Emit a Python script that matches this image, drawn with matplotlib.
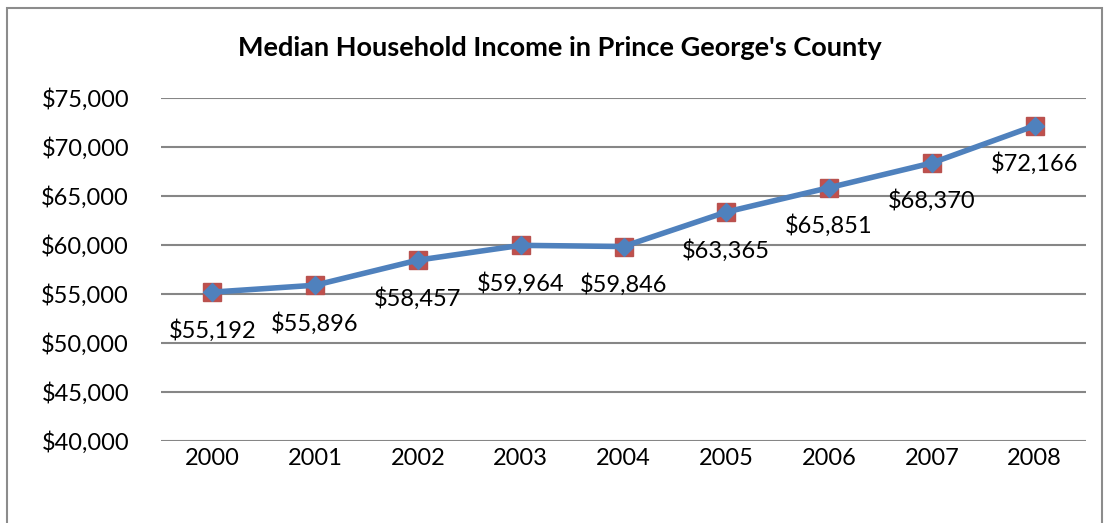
import matplotlib.pyplot as plt
from matplotlib.patches import Rectangle
from matplotlib.ticker import FuncFormatter

years = ["2000", "2001", "2002", "2003", "2004", "2005", "2006", "2007", "2008"]
income = [55192, 55896, 58457, 59964, 59846, 63365, 65851, 68370, 72166]
y_ticks = [40000, 45000, 50000, 55000, 60000, 65000, 70000, 75000]

W, H = 1104, 523
fig = plt.figure(figsize=(W / 100, H / 100), dpi=100)
plt.rcParams['font.family'] = ['Lato', 'DejaVu Sans']

ax = fig.add_axes([161 / W, 1 - 441 / H, (1086 - 161) / W, (441 - 98) / H])
x = list(range(len(years)))

# red square markers underneath, blue line with diamond markers on top
ax.plot(x, income, linestyle='none', marker='s', markersize=13.5,
        markerfacecolor='#C0504D', markeredgecolor='#B8524F', zorder=3)
ax.plot(x, income, color='#4F81BD', linewidth=4, marker='D', markersize=9.5,
        markerfacecolor='#4F81BD', markeredgecolor='#4F81BD', zorder=4)

for xi, v in zip(x, income):
    ax.annotate(f"${v:,}", (xi, v), xytext=(0, -38), textcoords='offset pixels',
                ha='center', va='center', fontsize=17, color='black')

ax.set_xlim(-0.5, len(years) - 0.5)
ax.set_ylim(40000, 75000)
ax.set_yticks(y_ticks)
ax.yaxis.set_major_formatter(FuncFormatter(lambda v, p: f"${int(v):,}"))
ax.set_xticks(x)
ax.set_xticklabels(years)
ax.grid(axis='y', color='#868686', linewidth=1.5)
ax.set_axisbelow(True)
for s in ax.spines.values():
    s.set_visible(False)
ax.tick_params(axis='both', length=0, labelsize=17, colors='black')
ax.tick_params(axis='y', pad=23)
ax.tick_params(axis='x', pad=5)

fig.text(560 / W, 1 - 48 / H, "Median Household Income in Prince George's County",
         ha='center', va='center', fontsize=19.5, fontweight='bold')

# chart border
fig.patches.append(Rectangle((7 / W, -0.01), (W - 9) / W, 1 - 8 / H + 0.01,
                             transform=fig.transFigure, fill=False,
                             edgecolor='#8C8C8C', linewidth=1.5))

fig.savefig("out.png", dpi=100)
